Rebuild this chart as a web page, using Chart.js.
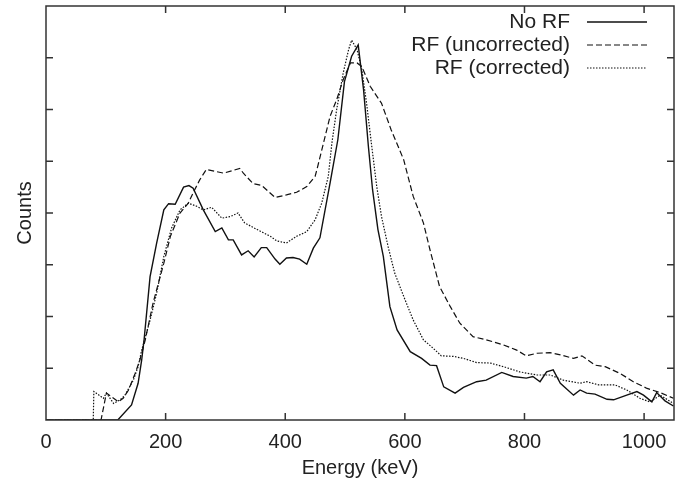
<!DOCTYPE html>
<html>
<head>
<meta charset="utf-8">
<script src="https://cdn.jsdelivr.net/npm/chart.js@4"></script>
<style>
  html, body { margin: 0; padding: 0; background: #fff; }
  #wrap { width: 684px; height: 485px; }
</style>
</head>
<body>
<div id="wrap"><canvas id="spectrum"></canvas></div>
<script>
const xTicks = [0, 200, 400, 600, 800, 1000];

const noRfEnergy = [0, 120, 143, 154, 160, 164, 174, 185, 197, 205, 216, 230, 239, 246, 263, 283, 294, 305, 313, 327, 338, 348, 360, 369, 383, 391, 402, 413, 424, 436, 447, 458, 475, 488, 499, 511, 522, 531, 539, 546, 555, 564, 575, 587, 609, 628, 642, 653, 665, 684, 698, 720, 736, 762, 781, 803, 814, 826, 837, 848, 860, 882, 893, 904, 918, 938, 949, 971, 988, 999, 1013, 1021, 1035, 1049];
const noRfCounts = [0, 0, 0.29, 0.71, 1.16, 1.55, 2.77, 3.42, 4.06, 4.18, 4.17, 4.50, 4.53, 4.48, 4.06, 3.64, 3.71, 3.48, 3.48, 3.19, 3.27, 3.15, 3.33, 3.33, 3.11, 3.01, 3.13, 3.14, 3.11, 3.01, 3.32, 3.52, 4.58, 5.42, 6.54, 7.03, 7.25, 6.38, 5.29, 4.45, 3.68, 3.16, 2.19, 1.74, 1.32, 1.19, 1.06, 1.05, 0.64, 0.52, 0.63, 0.74, 0.77, 0.92, 0.84, 0.81, 0.84, 0.74, 0.93, 0.97, 0.71, 0.48, 0.58, 0.52, 0.50, 0.40, 0.39, 0.48, 0.55, 0.48, 0.35, 0.53, 0.37, 0.27];

const uncorrEnergy = [0, 92, 101, 113, 121, 129, 138, 149, 157, 166, 179, 197, 208, 224, 238, 246, 257, 268, 297, 324, 330, 346, 361, 383, 402, 419, 436, 450, 453, 475, 486, 497, 509, 520, 528, 542, 561, 577, 598, 614, 631, 642, 658, 676, 692, 714, 736, 765, 787, 803, 821, 843, 860, 882, 896, 918, 935, 960, 982, 1005, 1027, 1049];
const uncorrCounts = [0, 0, 0.52, 0.42, 0.35, 0.42, 0.58, 0.90, 1.16, 1.55, 2.26, 3.03, 3.55, 4.00, 4.19, 4.39, 4.64, 4.84, 4.77, 4.86, 4.77, 4.57, 4.53, 4.30, 4.35, 4.40, 4.51, 4.71, 4.84, 5.87, 6.19, 6.58, 6.90, 6.90, 6.83, 6.45, 6.12, 5.61, 5.03, 4.32, 3.81, 3.29, 2.58, 2.19, 1.87, 1.61, 1.55, 1.45, 1.35, 1.24, 1.29, 1.30, 1.26, 1.19, 1.24, 1.06, 1.03, 0.90, 0.74, 0.61, 0.53, 0.42];

const corrEnergy = [0, 79, 80, 96, 101, 113, 124, 132, 146, 154, 160, 174, 185, 197, 210, 224, 238, 252, 263, 277, 294, 308, 321, 332, 353, 375, 386, 402, 419, 436, 450, 461, 472, 478, 486, 497, 506, 511, 520, 528, 536, 544, 553, 561, 572, 583, 598, 614, 631, 647, 661, 681, 698, 720, 743, 765, 792, 821, 843, 865, 893, 904, 924, 951, 971, 993, 1010, 1027, 1049];
const corrCounts = [0, 0, 0.55, 0.42, 0.52, 0.32, 0.39, 0.48, 0.77, 1.03, 1.35, 1.93, 2.45, 3.16, 3.71, 4.06, 4.19, 4.13, 4.06, 4.11, 3.90, 3.93, 4.00, 3.81, 3.68, 3.55, 3.46, 3.42, 3.55, 3.64, 3.87, 4.19, 4.71, 5.35, 6.00, 6.71, 7.16, 7.34, 7.16, 6.77, 6.12, 5.35, 4.51, 3.93, 3.35, 2.84, 2.39, 1.93, 1.55, 1.39, 1.24, 1.23, 1.19, 1.11, 1.10, 1.03, 0.93, 0.87, 0.87, 0.77, 0.71, 0.74, 0.68, 0.68, 0.58, 0.42, 0.35, 0.48, 0.32];

function toPoints(xs, ys) {
  return xs.map((x, i) => ({ x: x, y: ys[i] }));
}

const FONT = "'Liberation Sans', Arial, sans-serif";
const INK = "#222";

// gnuplot style frame with inward ticks, plus the legend in the top right corner
const framePlugin = {
  id: "frame",
  afterDraw(chart) {
    const ctx = chart.ctx;
    const area = chart.chartArea;
    const xs = chart.scales.x;
    const ys = chart.scales.y;
    const len = 7;

    ctx.save();
    ctx.strokeStyle = "#333";
    ctx.lineWidth = 1.5;
    ctx.setLineDash([]);
    ctx.strokeRect(area.left, area.top, area.right - area.left, area.bottom - area.top);

    ctx.beginPath();
    xs.ticks.forEach((t) => {
      let px = xs.getPixelForValue(t.value);
      if (px <= area.left + 1 || px >= area.right - 1) return;
      ctx.moveTo(px, area.bottom);
      ctx.lineTo(px, area.bottom - len);
      ctx.moveTo(px, area.top);
      ctx.lineTo(px, area.top + len);
    });
    ys.ticks.forEach((t) => {
      let py = ys.getPixelForValue(t.value);
      if (py <= area.top + 1 || py >= area.bottom - 1) return;
      ctx.moveTo(area.left, py);
      ctx.lineTo(area.left + len, py);
      ctx.moveTo(area.right, py);
      ctx.lineTo(area.right - len, py);
    });
    ctx.stroke();

    // legend
    ctx.font = "21px " + FONT;
    ctx.textAlign = "right";
    ctx.textBaseline = "middle";
    chart.data.datasets.forEach((ds, i) => {
      let rowY = 22 + i * 23;
      ctx.fillStyle = INK;
      ctx.fillText(ds.label, 570, rowY);
      ctx.beginPath();
      ctx.strokeStyle = ds.borderColor;
      ctx.lineWidth = ds.borderWidth;
      ctx.setLineDash(ds.borderDash || []);
      ctx.moveTo(587, rowY);
      ctx.lineTo(647, rowY);
      ctx.stroke();
    });
    ctx.restore();
  },
};

const spectrumChart = new Chart(document.getElementById("spectrum"), {
  type: "line",
  data: {
    datasets: [
      {
        label: "No RF",
        data: toPoints(noRfEnergy, noRfCounts),
        borderColor: "#111",
        borderWidth: 1.4,
        borderDash: [],
      },
      {
        label: "RF (uncorrected)",
        data: toPoints(uncorrEnergy, uncorrCounts),
        borderColor: "#111",
        borderWidth: 1.2,
        borderDash: [6, 3],
      },
      {
        label: "RF (corrected)",
        data: toPoints(corrEnergy, corrCounts),
        borderColor: "#111",
        borderWidth: 1.2,
        borderDash: [1.5, 1.5],
      },
    ],
  },
  options: {
    responsive: true,
    maintainAspectRatio: false,
    animation: false,
    layout: { padding: { top: 6, right: 10, left: 0, bottom: 0 } },
    elements: { point: { radius: 0 }, line: { tension: 0 } },
    plugins: {
      legend: { display: false },
      tooltip: { enabled: false },
    },
    scales: {
      x: {
        type: "linear",
        min: 0,
        max: 1050,
        afterBuildTicks: (scale) => {
          scale.ticks = xTicks.map((v) => ({ value: v }));
        },
        afterFit: (scale) => {
          scale.height = 65;
        },
        grid: { display: false },
        border: { display: false },
        ticks: {
          color: INK,
          font: { family: FONT, size: 20 },
          padding: 2,
          maxRotation: 0,
          callback: (value) => String(value),
        },
        title: {
          display: true,
          text: "Energy (keV)",
          color: INK,
          font: { family: FONT, size: 20 },
          padding: { top: 0, bottom: 5 },
        },
      },
      y: {
        min: 0,
        max: 8,
        afterFit: (scale) => {
          scale.width = 46;
        },
        grid: { display: false },
        border: { display: false },
        ticks: { display: false, stepSize: 1 },
        title: {
          display: true,
          text: "Counts",
          color: INK,
          font: { family: FONT, size: 20 },
          padding: { top: 13, bottom: 0 },
        },
      },
    },
  },
  plugins: [framePlugin],
});
</script>
</body>
</html>
